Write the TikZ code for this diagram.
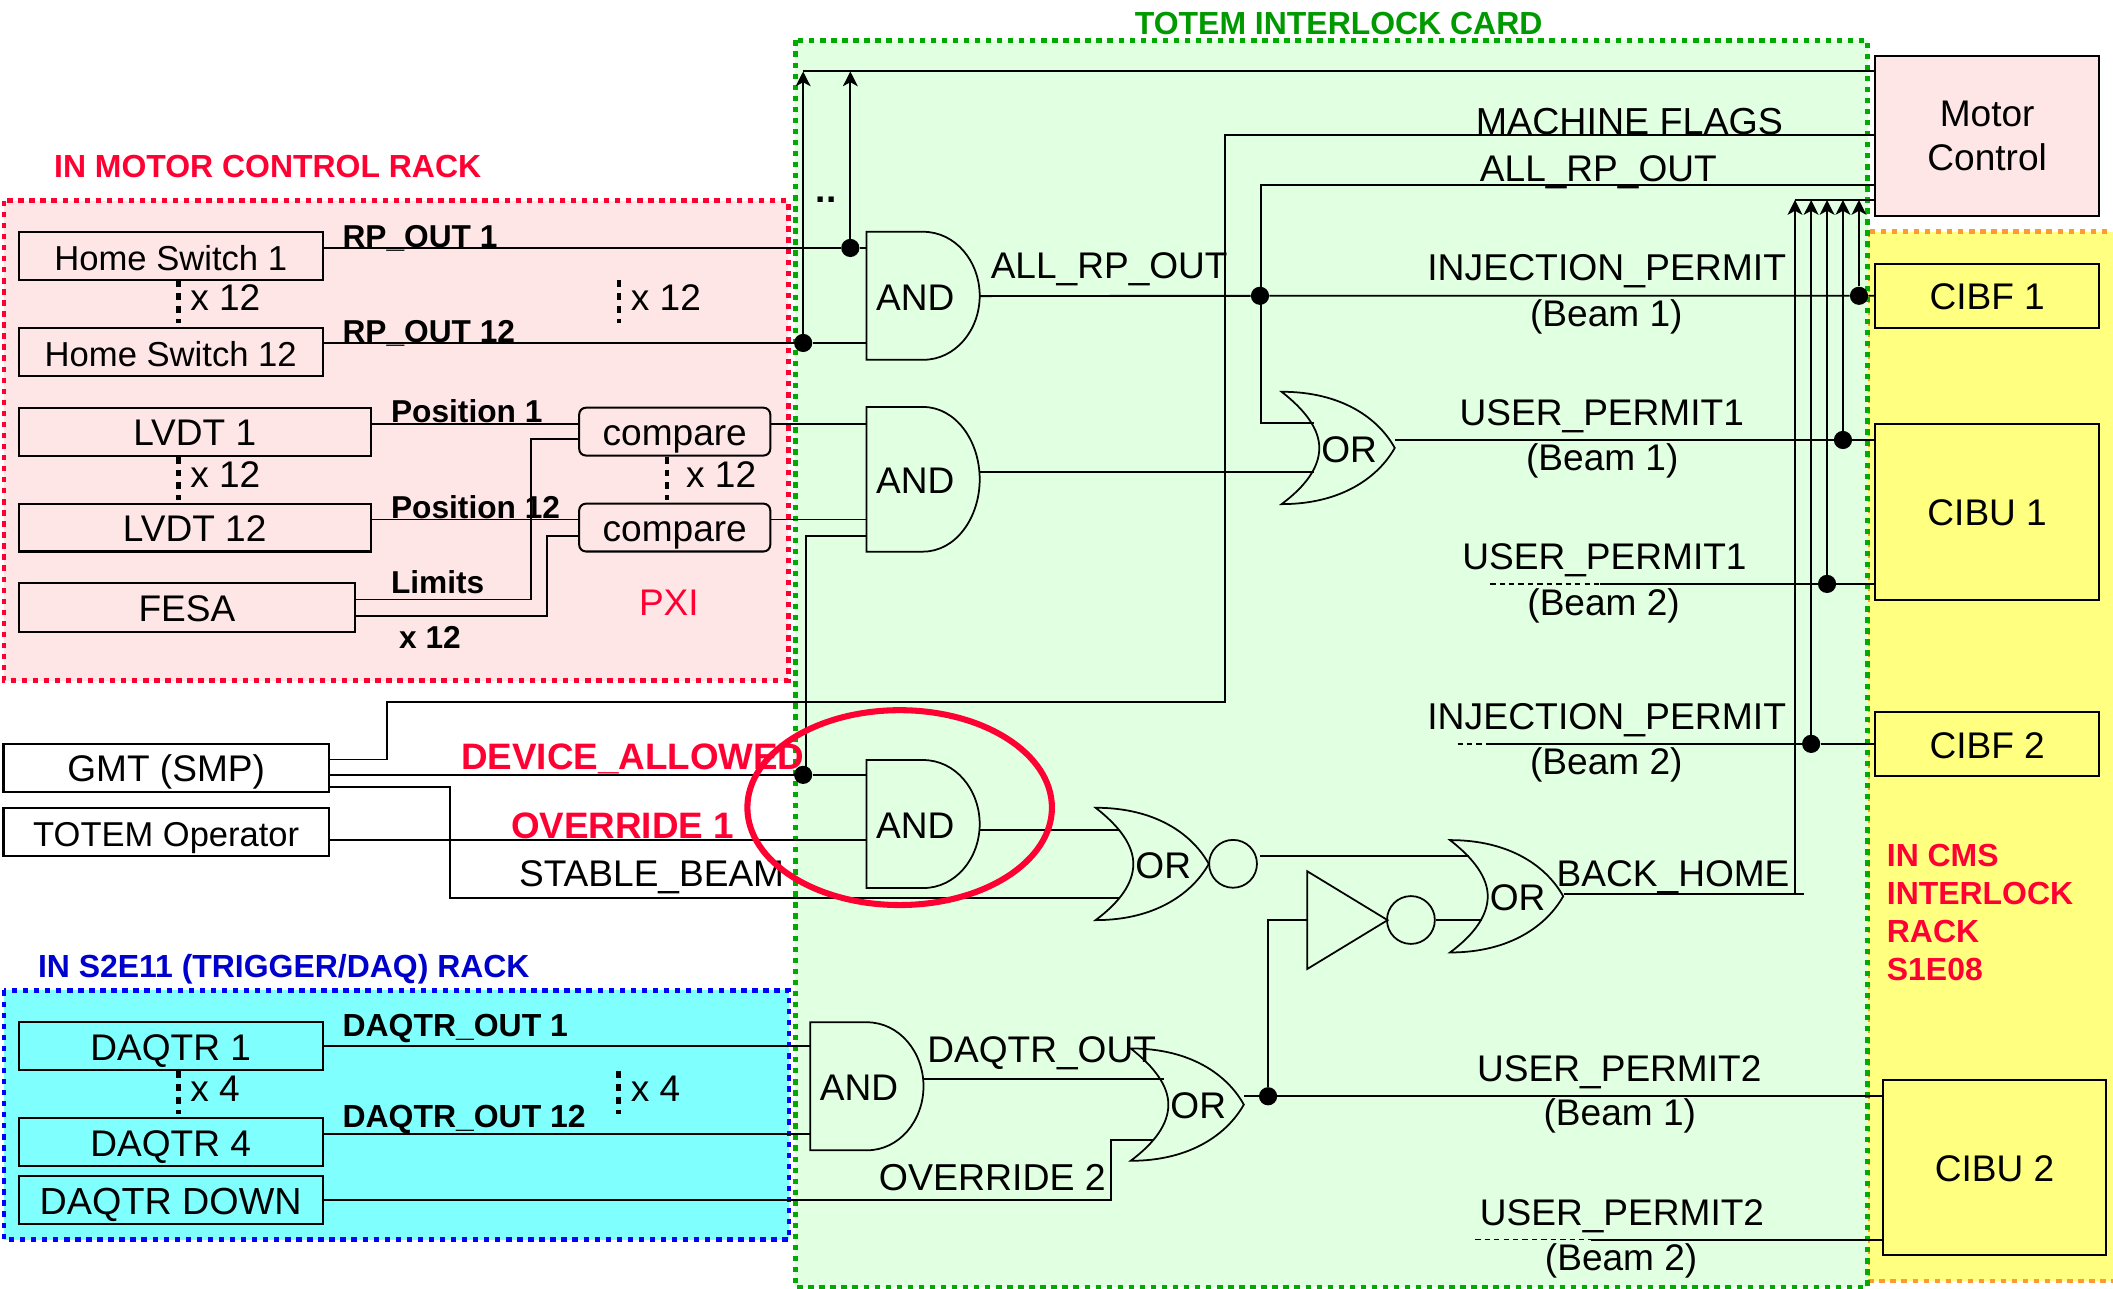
\documentclass[tikz,border=0pt]{standalone}
\usepackage{fontspec}
\setmainfont{Liberation Sans}
\usetikzlibrary{arrows.meta,shapes.geometric}
\definecolor{hotred}{HTML}{FF0033}
\definecolor{cardgreen}{HTML}{009900}
\definecolor{dotgreen}{HTML}{00AA00}
\definecolor{paleGreen}{HTML}{E1FFE1}
\definecolor{palePink}{HTML}{FFE6E6}
\definecolor{paleYellow}{HTML}{FFFF80}
\definecolor{paleCyan}{HTML}{80FFFF}
\definecolor{dotOrange}{HTML}{FF9933}
\definecolor{trigBlue}{HTML}{0000CC}
\newcommand{\sz}[1]{\fontsize{#1pt}{#1pt}\selectfont}
\begin{document}
\begin{tikzpicture}[x=1pt,y=-1pt,
  every node/.style={font=\sz{27.5}},
  wire/.style={draw,line width=1.4pt},
  arr/.style={wire,-{Stealth[length=11pt,width=11pt,inset=3pt]}},
  dashwire/.style={draw,line width=1pt,dash pattern=on 4pt off 3pt},
  panel/.style={line width=3.6pt,dash pattern=on 4pt off 4.2pt},
  boxn/.style 2 args={draw,line width=1.5pt,inner sep=0pt,minimum width=#1pt,minimum height=#2pt,text height=21pt,text depth=0pt},
  cmpn/.style={boxn={141.8}{35.5},rounded corners=5pt},
  lbl/.style={anchor=west,inner sep=0pt,text height=19pt,text depth=0pt},
  blbl/.style={lbl,font=\bfseries\sz{23.7},text height=17pt},
  rlbl/.style={lbl,font=\bfseries\sz{27.3},text=hotred,text height=20pt},
  clbl/.style={lbl,anchor=center},
  dotn/.style={circle,fill=black,inner sep=0pt,minimum size=13.5pt},
  bubn/.style={circle,draw,line width=1.3pt,inner sep=0pt,minimum size=35.5pt},
  andbox/.style={anchor=north west,inner sep=0pt,minimum width=84pt,minimum height=#1pt,label={[xshift=-6pt,yshift=-1pt]center:AND}},
  andbox/.default=95,
  orbox/.style={anchor=north west,inner sep=0pt,minimum width=84pt,minimum height=83.4pt,label={[xshift=8pt,yshift=-1pt]center:OR}},
  andshape/.pic={\draw[line width=1.3pt] (0,0) -- (42,0) .. controls (66,0) and (84,22) .. (84,47.5) .. controls (84,73) and (66,95) .. (42,95) -- (0,95) -- cycle;},
  orshape/.pic={\draw[line width=1.3pt] (0,0) .. controls (45,0) and (72,20) .. (84,41.7) .. controls (72,63) and (45,83.4) .. (0,83.4) .. controls (18,70) and (28,56) .. (28,41.7) .. controls (28,28) and (18,14) .. (0,0) -- cycle;},
  vbar/.pic={\draw[line width=3.6pt,dash pattern=on 5pt off 4.5pt] (0,0) -- (0,32);}]

\useasboundingbox (0,0) rectangle (1568,955.8);

\draw[panel,fill=paleYellow,draw=dotOrange] (1386,172) rectangle (1590,950.6);
\draw[panel,fill=paleGreen,draw=dotgreen] (590,30) rectangle (1386,955);
\draw[panel,fill=palePink,draw=hotred] (3,149) rectangle (585,505);
\draw[panel,fill=paleCyan,draw=blue] (3,735) rectangle (585.5,920);

\node[boxn={225.4}{35.8},font=\sz{25.7}] (hsa) at (126.7,190) {Home Switch 1};
\node[boxn={225.4}{35.8},font=\sz{25.7}] (hsb) at (126.7,261.3) {Home Switch 12};
\node[boxn={261}{35.5}] (lva) at (144.5,320.3) {LVDT 1};
\node[boxn={261}{35.5}] (lvb) at (144.5,391.5) {LVDT 12};
\node[boxn={249.4}{35.7}] (fesa) at (138.7,450.8) {FESA};
\node[cmpn] (cpa) at (500.7,320.3) {compare};
\node[cmpn] (cpb) at (500.7,391.5) {compare};
\node[boxn={241.4}{35.5}] (gmt) at (123.3,569.75) {GMT (SMP)};
\node[boxn={241.4}{35.5},font=\sz{25.6}] (oper) at (123.3,617.3) {TOTEM Operator};
\node[boxn={225.5}{35.5}] (dqa) at (126.7,776.3) {DAQTR 1};
\node[boxn={225.5}{35.5}] (dqb) at (126.7,847.7) {DAQTR 4};
\node[boxn={225.5}{35.5},font=\sz{28}] (dqd) at (126.7,890.5) {DAQTR DOWN};
\node[draw,line width=1.5pt,fill=palePink,inner sep=0pt,minimum width=166.3pt,minimum height=118.5pt,align=center,font=\fontsize{27.5pt}{33pt}\selectfont] (motor) at (1474.6,100.75) {Motor\\Control};
\node[boxn={166.3}{47.6}] (cbfa) at (1474.6,219.5) {CIBF 1};
\node[boxn={166.3}{130.5}] (cuba) at (1474.6,379.75) {CIBU 1};
\node[boxn={166.3}{47.6}] (cbfb) at (1474.6,552.1) {CIBF 2};
\node[boxn={165.7}{130.2}] (cubb) at (1480.1,866.4) {CIBU 2};

\node[andbox] (anda) at (643,172) {};
\node[andbox=107.4] (andb) at (643,302) {};
\node[andbox] (andc) at (643,564) {};
\node[andbox] (andd) at (601.3,758.6) {};
\node[orbox] (ora) at (951,290.7) {};
\node[orbox] (orb) at (813,599.4) {};
\node[orbox] (orc) at (1076,623.4) {};
\node[orbox] (ord) at (839,778) {};
\node[anchor=north west,inner sep=0pt,minimum width=59.3pt,minimum height=72.2pt] (nota) at (970,646.5) {};
\pic at (anda.north west) {andshape};
\pic[yscale=1.13] at (andb.north west) {andshape};
\pic at (andc.north west) {andshape};
\pic at (andd.north west) {andshape};
\pic at (ora.north west) {orshape};
\pic at (orb.north west) {orshape};
\pic at (orc.north west) {orshape};
\pic at (ord.north west) {orshape};
\draw[line width=1.3pt] (nota.north west) -- (nota.east) -- (nota.south west) -- cycle;
\node[bubn] (bubb) at (915,641) {};
\node[bubn] (bubc) at (1047,682.7) {};

\node[dotn] (dra) at (631,184) {};
\node[dotn] (drb) at (596,254.5) {};
\node[dotn] (dall) at (935,219.5) {};
\node[dotn] (dfa) at (1379.5,219.5) {};
\node[dotn] (dua) at (1367.6,326.5) {};
\node[dotn] (dub) at (1355.8,433.3) {};
\node[dotn] (dfb) at (1344,552) {};
\node[dotn] (dev) at (596,575) {};
\node[dotn] (dor) at (941,813.5) {};

\coordinate (tl) at (596,53);
\coordinate (mb) at (1332,148.4);
\coordinate (arta) at (936,137);
\coordinate (oraa) at (975,314);
\coordinate (orab) at (975,350);
\coordinate (cpina) at (429.8,314.5);
\coordinate (cpinb) at (429.8,385.5);
\coordinate (lima) at (394,444.9);
\coordinate (limb) at (394,326);
\coordinate (limc) at (406,457);
\coordinate (limd) at (406,398);
\coordinate (andin) at (598,398);
\coordinate (ga) at (287,563.6);
\coordinate (gb) at (909,521);
\coordinate (gc) at (909,100.5);
\coordinate (sa) at (333.7,584);
\coordinate (sb) at (830.7,666.5);
\coordinate (oc) at (643,623.2);
\coordinate (orbo) at (830,615.7);
\coordinate (oba) at (935,635);
\coordinate (obb) at (1090,635);
\coordinate (obc) at (1099.7,682.7);
\coordinate (bhv) at (1332,663.4);
\coordinate (bhe) at (1338.5,663.4);
\coordinate (ib) at (601.3,841.3);
\coordinate (ordi) at (864,801);
\coordinate (dqf) at (824.5,845.7);
\coordinate (dqg) at (856.7,845.7);
\coordinate (dsa) at (1105.8,433.3);
\coordinate (dsb) at (1187,433.3);
\coordinate (dta) at (1081.6,552);
\coordinate (dtb) at (1105.6,552);
\coordinate (dva) at (1094.7,920);
\coordinate (dvb) at (1180.4,920);

\draw[wire] (motor.west |- tl) -- (tl);
\draw[arr] (drb) -- (tl);
\draw[arr] (dra) -- (dra |- tl);
\draw[wire] (hsa.east |- dra) -- (dra) -- (dra -| anda.west);
\draw[wire] (hsb.east |- drb) -- (drb) -- (drb -| anda.west);
\draw[wire] (lva.east |- cpina) -- (cpina);
\draw[wire] (lvb.east |- cpinb) -- (cpinb);
\draw[wire] (cpa.east |- cpina) -- (cpina -| andb.west);
\draw[wire] (cpb.east |- cpinb) -- (cpinb -| andb.west);
\draw[wire] (fesa.east |- lima) -- (lima) -- (limb) -- (limb -| cpa.west);
\draw[wire] (fesa.east |- limc) -- (limc) -- (limd) -- (limd -| cpb.west);
\draw[wire] (andin -| andb.west) -- (andin) -- (andin |- dev);
\draw[wire] (gmt.east |- ga) -- (ga) |- (gb) -- (gc) -- (motor.west |- gc);
\draw[wire] (gmt.east |- dev) -- (dev) -- (dev -| andc.west);
\draw[wire] (gmt.east |- sa) -- (sa) |- (sb);
\draw[wire] (oper.east |- oc) -- (oc);
\draw[wire] (orbo -| andc.east) -- (orbo);
\draw[wire] (motor.west |- arta) -- (arta) |- (oraa);
\draw[wire] (orab -| andb.east) -- (orab);
\draw[wire] (anda.east) -- (dall) -- (dfa) -- (cbfa.west);
\draw[wire] (ora.east |- dua) -- (dua) -- (dua -| cuba.west);
\draw[dashwire] (dsa) -- (dsb);
\draw[wire] (dsb) -- (dub) -- (dub -| cuba.west);
\draw[dashwire] (dta) -- (dtb);
\draw[wire] (dtb) -- (dfb) -- (dfb -| cbfb.west);
\draw[wire] (oba) -- (obb);
\draw[wire] (bubc.east) -- (obc);
\draw[wire] (orc.east |- bhe) -- (bhe);
\draw[wire] (motor.west |- mb) -- (mb);
\draw[arr] (dfa) -- (dfa |- mb);
\draw[arr] (dua) -- (dua |- mb);
\draw[arr] (dub) -- (dub |- mb);
\draw[arr] (dfb) -- (dfb |- mb);
\draw[arr] (bhv) -- (mb);
\draw[wire] (dqa.east) -- (dqa.east -| andd.west);
\draw[wire] (dqb.east |- ib) -- (ib);
\draw[wire] (ordi -| andd.east) -- (ordi);
\draw[wire] (dqd.east) -| (dqf) -- (dqg);
\draw[wire] (ord.east |- dor) -- (dor) -- (dor -| cubb.west);
\draw[wire] (dor) |- (nota.west);
\draw[dashwire] (dva) -- (dvb);
\draw[wire] (dvb) -- (dvb -| cubb.west);

\pic at (132.5,208) {vbar};
\pic at (459.3,208) {vbar};
\pic at (132.5,339) {vbar};
\pic at (495,339) {vbar};
\pic at (132.7,795) {vbar};
\pic at (459,795) {vbar};

\node[lbl] (xa) at (141,221) {x 12};
\node[lbl] (xb) at (468,221) {x 12};
\node[lbl] (xc) at (141,352) {x 12};
\node[lbl] (xd) at (509,352) {x 12};
\node[lbl] (xe) at (141,808) {x 4};
\node[lbl] (xf) at (468,808) {x 4};

\node[anchor=base,inner sep=0pt,font=\bfseries\sz{27.5}] (ldots) at (613,150.6) {..};
\node[blbl,font=\bfseries\sz{23.5}] (lra) at (254,175) {RP\_OUT 1};
\node[blbl,font=\bfseries\sz{23.5}] (lrb) at (254,246) {RP\_OUT 12};
\node[blbl,font=\bfseries\sz{23.5}] (lpa) at (290,305) {Position 1};
\node[blbl,font=\bfseries\sz{23.5}] (lpb) at (290,376) {Position 12};
\node[blbl,font=\bfseries\sz{23.5}] (llim) at (290,432) {Limits};
\node[blbl,font=\bfseries\sz{23.5}] (lx) at (296,473) {x 12};
\node[blbl] (lda) at (254,761) {DAQTR\_OUT 1};
\node[blbl] (ldb) at (254,828) {DAQTR\_OUT 12};
\node[lbl,text=hotred] (lpxi) at (474,447) {PXI};

\node[blbl,text=cardgreen,font=\bfseries\sz{23.7}] (lcard) at (842,17) {TOTEM INTERLOCK CARD};
\node[blbl,text=hotred] (lmot) at (40,123) {IN MOTOR CONTROL RACK};
\node[blbl,text=trigBlue] (ltrig) at (28,717) {IN S2E11 (TRIGGER/DAQ) RACK};
\node[anchor=north west,inner sep=0pt,align=left,text=hotred,font=\bfseries\fontsize{23.7pt}{28.4pt}\selectfont] (lcms) at (1400,626) {IN CMS\\INTERLOCK\\RACK\\S1E08};

\node[rlbl] (ldev) at (342,561) {DEVICE\_ALLOWED};
\node[rlbl] (love) at (379,612) {OVERRIDE 1};
\node[lbl] (lstb) at (385,648) {STABLE\_BEAM};
\node[lbl,font=\sz{27.9}] (lmf) at (1095,90) {MACHINE FLAGS};
\node[lbl] (lala) at (1098,125) {ALL\_RP\_OUT};
\node[lbl] (lalb) at (735,197) {ALL\_RP\_OUT};
\node[lbl,font=\sz{27.7}] (lina) at (1059,199) {INJECTION\_PERMIT};
\node[clbl] (lba) at (1192,233) {(Beam 1)};
\node[lbl] (lua) at (1083,306) {USER\_PERMIT1};
\node[clbl] (lbb) at (1189,340) {(Beam 1)};
\node[lbl] (lub) at (1085,413) {USER\_PERMIT1};
\node[clbl] (lbc) at (1190,447) {(Beam 2)};
\node[lbl,font=\sz{27.7}] (linb) at (1059,532) {INJECTION\_PERMIT};
\node[clbl] (lbd) at (1192,565) {(Beam 2)};
\node[lbl] (lbh) at (1155,648) {BACK\_HOME};
\node[lbl] (lqo) at (688,779) {DAQTR\_OUT};
\node[lbl,font=\sz{27.8}] (lov) at (652,874) {OVERRIDE 2};
\node[lbl] (luc) at (1096,793) {USER\_PERMIT2};
\node[clbl] (lbe) at (1202,826) {(Beam 1)};
\node[lbl] (lud) at (1098,900) {USER\_PERMIT2};
\node[clbl] (lbf) at (1203,933) {(Beam 2)};

\node[ellipse,draw=hotred,line width=4.5pt,inner sep=0pt,minimum width=226pt,minimum height=144.6pt] (ring) at (667.6,599.3) {};

\end{tikzpicture}
\end{document}
